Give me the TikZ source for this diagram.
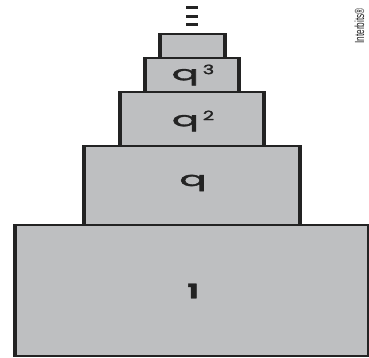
\documentclass[tikz,border=0pt]{standalone}
\usepackage{fontspec}
\usepackage{graphicx}
\setmainfont{Poppins}
\newfontfamily\lblfont{Poppins}[FakeBold=1.6]
\newfontfamily\wmfont{Liberation Sans}
\definecolor{boxgray}{HTML}{BEBFC1}
\definecolor{edgedark}{HTML}{232323}
\begin{document}
\begin{tikzpicture}[x=1pt,y=-1pt,
  tier/.style={fill=boxgray, draw=edgedark, line width=1.5pt},
  sidebar/.style={draw=edgedark, line width=4pt},
  lbl/.style={text=edgedark, inner sep=0pt, font=\lblfont\fontsize{20}{20}\selectfont},
  dashbar/.style={draw=edgedark, line width=3pt}]
\useasboundingbox (0,0) rectangle (369,358);
% tiers
\path[tier] (14,225) rectangle (368,356);
\draw[sidebar] (15,225) -- (15,356);
\path[tier] (83,146) rectangle (301,225);
\draw[sidebar] (84,146) -- (84,225) (300,146) -- (300,225);
\path[tier] (119,92) rectangle (265,146);
\draw[sidebar] (120,92) -- (120,146) (264,92) -- (264,146);
\path[tier] (144,58) rectangle (240,92);
\draw[sidebar] (145,58) -- (145,92) (239,58) -- (239,92);
\path[tier] (159,34) rectangle (226,58);
\draw[sidebar] (160,34) -- (160,58) (225,34) -- (225,58);
% labels
\node[lbl] (one) at (193,291) {\bfseries\scalebox{1.45}[1]{1}};
\node[lbl] (q1) at (193,183) {\scalebox{2.0}[1]{q}};
\node[lbl] (q2) at (193,121) {\scalebox{2.0}[1]{q}\kern4pt\raisebox{6pt}{\fontsize{13}{13}\selectfont\scalebox{1.5}[1]{2}}};
\node[lbl] (q3) at (193,75) {\scalebox{2.0}[1]{q}\kern4pt\raisebox{6pt}{\fontsize{13}{13}\selectfont\scalebox{1.5}[1]{3}}};
% dots
\coordinate (d1a) at (186,8); \coordinate (d1b) at (198,8);
\coordinate (d2a) at (186,16.5); \coordinate (d2b) at (198,16.5);
\coordinate (d3a) at (186,25); \coordinate (d3b) at (198,25);
\draw[dashbar] (d1a) -- (d1b) (d2a) -- (d2b) (d3a) -- (d3b);
% watermark
\node[rotate=90, inner sep=0pt, text=edgedark] (wm) at (359.5,26) {\wmfont\fontsize{11}{11}\selectfont\scalebox{0.75}[1.2]{Interbits®}};
\end{tikzpicture}
\end{document}
